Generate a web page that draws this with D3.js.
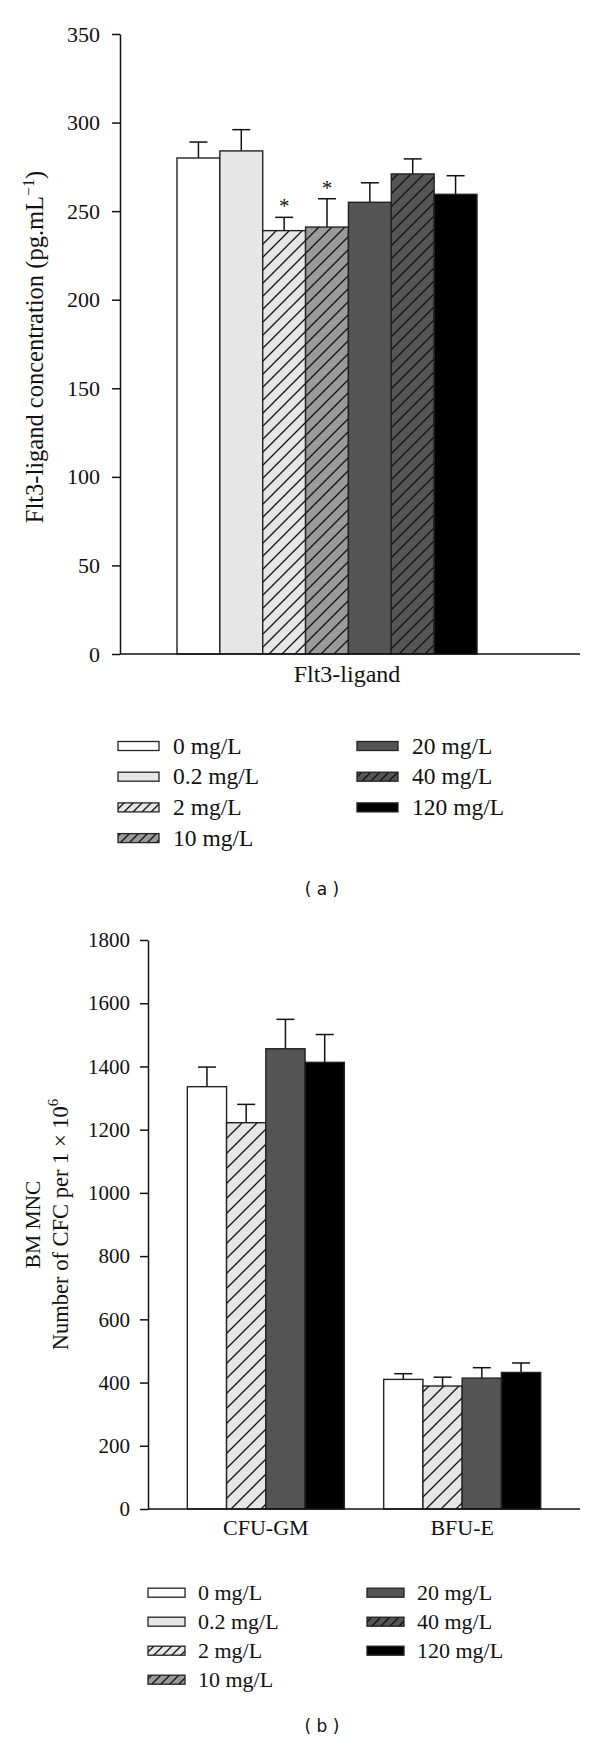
<!DOCTYPE html>
<html>
<head>
<meta charset="utf-8">
<script src="https://cdn.jsdelivr.net/npm/d3@7/dist/d3.min.js"></script>
<style>
  html, body { margin: 0; padding: 0; background: #fff; }
  svg text { font-family: "Liberation Serif", "Times New Roman", serif; fill: #111; }
</style>
</head>
<body>
<svg id="chart" width="600" height="1743"></svg>
<script>
// ---------- data ----------
const seriesNames = ["0 mg/L", "0.2 mg/L", "2 mg/L", "10 mg/L", "20 mg/L", "40 mg/L", "120 mg/L"];
const seriesFill  = ["#ffffff", "#e6e6e6", "#e6e6e6", "#9a9a9a", "#555555", "#555555", "#000000"];
const seriesHatch = [false, false, true, true, false, true, false];

// panel (a)
const flt3Category = ["Flt3-ligand"];
const flt3Mean = [280, 284, 239, 241, 255, 271, 259.5];
const flt3Err  = [9, 12, 7.5, 16, 11, 8.5, 10.5];
const flt3Sig  = [false, false, true, true, false, false, false];
const flt3Ticks = [0, 50, 100, 150, 200, 250, 300, 350];

// panel (b)
const cfcCategories = ["CFU-GM", "BFU-E"];
const cfcSeries = [0, 2, 4, 6];               // indices into seriesNames
const cfuGMMean = [1336, 1222, 1456, 1413];
const cfuGMErr  = [62, 58, 93, 88];
const bfuEMean  = [410, 389, 414, 432];
const bfuEErr   = [18, 28, 33, 30];
const cfcTicks = [0, 200, 400, 600, 800, 1000, 1200, 1400, 1600, 1800];

// ---------- drawing ----------
const svg = d3.select("#chart");
const defs = svg.append("defs");

function hatchPattern(id, bg, size) {
  const p = defs.append("pattern").attr("id", id)
    .attr("patternUnits", "userSpaceOnUse").attr("width", size).attr("height", size);
  p.append("rect").attr("width", size).attr("height", size).attr("fill", bg);
  p.append("path")
    .attr("d", `M0,${size} L${size},0 M${-size/2},${size/2} L${size/2},${-size/2} M${size/2},${size*1.5} L${size*1.5},${size/2}`)
    .attr("stroke", "#111").attr("stroke-width", 1.3);
}
function fillFor(i, tag, size) {
  if (!seriesHatch[i]) return seriesFill[i];
  const id = `h${i}_${tag}`;
  if (defs.select("#" + id).empty()) hatchPattern(id, seriesFill[i], size);
  return `url(#${id})`;
}

function drawYAxis(y, x0, ticks, pad, fs) {
  const g = svg.append("g").attr("transform", `translate(${x0},0)`)
    .call(d3.axisLeft(y).tickValues(ticks).tickSize(8).tickSizeOuter(0).tickPadding(pad).tickFormat(d3.format("d")));
  g.select(".domain").attr("stroke", "#111").attr("stroke-width", 1.5);
  g.selectAll(".tick line").attr("stroke", "#111").attr("stroke-width", 1.5);
  g.selectAll(".tick text").attr("font-size", fs).attr("fill", "#111")
    .style("font-family", '"Liberation Serif", serif');
  return g;
}

function drawBars(g, items, y, tag, hsize) {
  items.forEach(d => {
    const cx = d.x + d.w / 2;
    g.append("line").attr("x1", cx).attr("x2", cx)
      .attr("y1", y(d.mean)).attr("y2", y(d.mean + d.err))
      .attr("stroke", "#111").attr("stroke-width", 1.5);
    g.append("line").attr("x1", cx - 9).attr("x2", cx + 9)
      .attr("y1", y(d.mean + d.err)).attr("y2", y(d.mean + d.err))
      .attr("stroke", "#111").attr("stroke-width", 1.5);
    if (d.sig) {
      g.append("text").attr("x", cx).attr("y", y(d.mean + d.err) - 4)
        .attr("text-anchor", "middle").attr("font-size", 21).text("*");
    }
  });
  items.forEach(d => {
    g.append("rect").attr("x", d.x).attr("y", y(d.mean))
      .attr("width", d.w).attr("height", y(0) - y(d.mean))
      .attr("fill", fillFor(d.s, tag, hsize))
      .attr("stroke", "#222").attr("stroke-width", 1.4);
  });
}

function drawLegend(x1, x2, sw, textDx, y0, dy, font, tag) {
  const cols = [[0, 1, 2, 3], [4, 5, 6]];
  cols.forEach((col, ci) => {
    col.forEach((s, ri) => {
      const cy = y0 + ri * dy;
      const x = ci === 0 ? x1 : x2;
      svg.append("rect").attr("x", x).attr("y", cy - 4.5).attr("width", sw).attr("height", 9)
        .attr("fill", fillFor(s, tag, 9)).attr("stroke", "#222").attr("stroke-width", 1.3);
      svg.append("text").attr("x", x + textDx).attr("y", cy + 7.5)
        .attr("font-size", font).text(seriesNames[s]);
    });
  });
}

// ----- panel (a) -----
{
  const y = d3.scaleLinear().domain([0, 350]).range([654, 34]);
  const xAxisRange = [120, 580];
  const xCat = d3.scalePoint().domain(flt3Category).range(xAxisRange).padding(0.5);
  const xBar = d3.scaleBand().domain(d3.range(seriesNames.length)).range([177, 477]);

  const g = svg.append("g");
  drawBars(g, flt3Mean.map((m, i) => ({
    x: xBar(i), w: xBar.bandwidth(), mean: m, err: flt3Err[i], s: i, sig: flt3Sig[i]
  })), y, "a", 13);

  drawYAxis(y, 120, flt3Ticks, 12, 22);
  svg.append("line").attr("x1", xAxisRange[0]).attr("x2", xAxisRange[1])
    .attr("y1", y(0)).attr("y2", y(0)).attr("stroke", "#111").attr("stroke-width", 1.5);

  svg.append("text").attr("x", xCat(flt3Category[0]) - 3).attr("y", 682)
    .attr("text-anchor", "middle").attr("font-size", 24).text(flt3Category[0]);

  const yl = svg.append("text").attr("transform", `translate(43,${(y(0) + y(350)) / 2 + 3}) rotate(-90)`)
    .attr("text-anchor", "middle").attr("font-size", 24.5);
  yl.append("tspan").text("Flt3-ligand concentration (pg.mL");
  yl.append("tspan").attr("dy", -9).attr("font-size", 16).text("−1");
  yl.append("tspan").attr("dy", 9).text(")");

  drawLegend(118, 357, 41, 55, 746, 30.7, 23.5, "la");

  svg.append("text").attr("x", 322).attr("y", 895).attr("text-anchor", "middle")
    .style("font-family", '"DejaVu Sans", sans-serif').attr("font-size", 17).text("( a )");
}

// ----- panel (b) -----
{
  const y = d3.scaleLinear().domain([0, 1800]).range([1509, 940]);
  const xAxisRange = [148, 580];
  const xCat = d3.scalePoint().domain(cfcCategories).range(xAxisRange).padding(0.6);
  const groupW = 157;
  const xBar = d3.scaleBand().domain(cfcSeries).range([-groupW / 2, groupW / 2]);

  const g = svg.append("g");
  const groups = [
    { cat: "CFU-GM", mean: cfuGMMean, err: cfuGMErr },
    { cat: "BFU-E", mean: bfuEMean, err: bfuEErr }
  ];
  groups.forEach(gr => {
    drawBars(g, cfcSeries.map((s, i) => ({
      x: xCat(gr.cat) + xBar(s), w: xBar.bandwidth(), mean: gr.mean[i], err: gr.err[i], s: s, sig: false
    })), y, "b", 15);
  });

  drawYAxis(y, 148, cfcTicks, 10, 21);
  svg.append("line").attr("x1", xAxisRange[0]).attr("x2", xAxisRange[1])
    .attr("y1", y(0)).attr("y2", y(0)).attr("stroke", "#111").attr("stroke-width", 1.5);

  cfcCategories.forEach(c => {
    svg.append("text").attr("x", xCat(c)).attr("y", 1535)
      .attr("text-anchor", "middle").attr("font-size", 22).text(c);
  });

  const cy = (y(0) + y(1800)) / 2;
  svg.append("text").attr("transform", `translate(40,${cy}) rotate(-90)`)
    .attr("text-anchor", "middle").attr("font-size", 21.5).text("BM MNC");
  const l2 = svg.append("text").attr("transform", `translate(68,${cy}) rotate(-90)`)
    .attr("text-anchor", "middle").attr("font-size", 22.5);
  l2.append("tspan").text("Number of CFC per 1 × 10");
  l2.append("tspan").attr("dy", -10).attr("font-size", 15).text("6");

  drawLegend(148, 367, 37, 50, 1592.7, 29, 22, "lb");

  svg.append("text").attr("x", 322).attr("y", 1732).attr("text-anchor", "middle")
    .style("font-family", '"DejaVu Sans", sans-serif').attr("font-size", 17).text("( b )");
}
</script>
</body>
</html>
